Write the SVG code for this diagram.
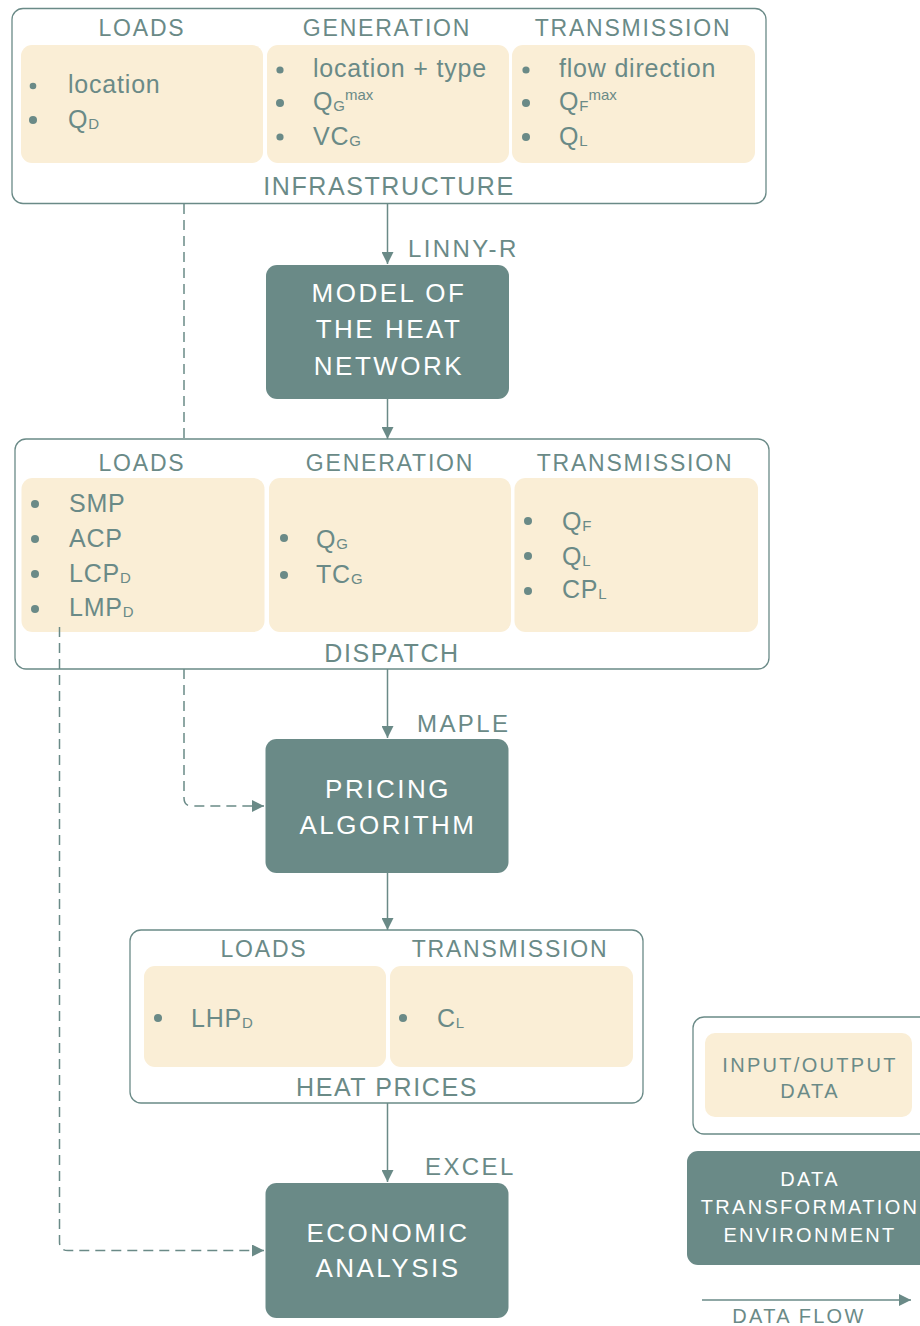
<svg xmlns="http://www.w3.org/2000/svg" width="920" height="1326" viewBox="0 0 920 1326">
  <defs>
    <style>
      text { font-family: "Liberation Sans", Arial, sans-serif; fill: #6a8a87; }
      .frame { fill: #ffffff; stroke: #6a8a87; stroke-width: 1.3; }
      .cell { fill: #faeed6; }
      .proc { fill: #6a8a87; }
      .hdr { font-size: 23px; letter-spacing: 1.8px; text-anchor: middle; }
      .ftr { font-size: 25px; letter-spacing: 1.6px; text-anchor: middle; }
      .item { font-size: 25px; letter-spacing: 0.8px; }
      .sub { font-size: 15px; letter-spacing: 0px; }
      .dot { fill: #6a8a87; }
      .ptxt { font-size: 26px; letter-spacing: 2.5px; text-anchor: middle; fill: #ffffff; }
      .tool { font-size: 24px; letter-spacing: 2.4px; }
      .leg { font-size: 20px; letter-spacing: 2.3px; text-anchor: middle; }
      .flow { fill: none; stroke: #6a8a87; stroke-width: 1.5; }
      .dash { stroke-dasharray: 10 6; }
    </style>
    <marker id="head" viewBox="0 0 12 12" refX="12" refY="6" markerWidth="12" markerHeight="12" markerUnits="userSpaceOnUse" orient="auto">
      <path d="M0,0 L12,6 L0,12 z" fill="#6a8a87"/>
    </marker>
  </defs>

  <!-- infrastructure data -->
  <g id="infrastructure">
    <rect class="frame" x="12" y="8.5" width="754" height="195" rx="11"/>
    <rect class="cell" x="21" y="45" width="242" height="118" rx="11"/>
    <rect class="cell" x="267" y="45" width="242" height="118" rx="11"/>
    <rect class="cell" x="512" y="45" width="243" height="118" rx="11"/>
    <text class="hdr" x="142" y="36">LOADS</text>
    <text class="hdr" x="387" y="36">GENERATION</text>
    <text class="hdr" x="633" y="36">TRANSMISSION</text>
    <circle class="dot" cx="33" cy="86" r="3.3"/>
    <text class="item" x="68" y="93">location</text>
    <circle class="dot" cx="33" cy="120" r="4"/>
    <text class="item" x="68" y="128">Q<tspan class="sub" dy="1">D</tspan></text>
    <circle class="dot" cx="280" cy="70" r="3.6"/>
    <text class="item" x="313" y="77">location + type</text>
    <circle class="dot" cx="280" cy="103" r="4"/>
    <text class="item" x="313" y="110">Q<tspan class="sub" dy="1">G</tspan><tspan class="sub" dy="-11">max</tspan></text>
    <circle class="dot" cx="280" cy="137" r="3.6"/>
    <text class="item" x="313" y="145">VC<tspan class="sub" dy="1">G</tspan></text>
    <circle class="dot" cx="526" cy="70" r="3.6"/>
    <text class="item" x="559" y="77">flow direction</text>
    <circle class="dot" cx="526" cy="103" r="4"/>
    <text class="item" x="559" y="110">Q<tspan class="sub" dy="1">F</tspan><tspan class="sub" dy="-11">max</tspan></text>
    <circle class="dot" cx="526" cy="137" r="4"/>
    <text class="item" x="559" y="145">Q<tspan class="sub" dy="1">L</tspan></text>
    <text class="ftr" x="389" y="195">INFRASTRUCTURE</text>
  </g>

  <!-- heat network model -->
  <g id="model">
    <rect class="proc" x="266" y="265" width="243" height="134" rx="11"/>
    <text class="ptxt" x="389" y="302">MODEL OF</text>
    <text class="ptxt" x="389" y="338">THE HEAT</text>
    <text class="ptxt" x="389" y="375">NETWORK</text>
    <text class="tool" x="408" y="257">LINNY-R</text>
  </g>

  <!-- dispatch results -->
  <g id="dispatch">
    <rect class="frame" x="15" y="439" width="754" height="230" rx="11"/>
    <rect class="cell" x="21.5" y="478" width="243" height="154" rx="11"/>
    <rect class="cell" x="269" y="478" width="242" height="154" rx="11"/>
    <rect class="cell" x="514.5" y="478" width="243.5" height="154" rx="11"/>
    <text class="hdr" x="142" y="471">LOADS</text>
    <text class="hdr" x="390" y="471">GENERATION</text>
    <text class="hdr" x="635" y="471">TRANSMISSION</text>
    <circle class="dot" cx="35" cy="504" r="4"/>
    <text class="item" x="69" y="512">SMP</text>
    <circle class="dot" cx="35" cy="539" r="4"/>
    <text class="item" x="69" y="547">ACP</text>
    <circle class="dot" cx="35" cy="574" r="4"/>
    <text class="item" x="69" y="582">LCP<tspan class="sub" dy="1">D</tspan></text>
    <circle class="dot" cx="35" cy="609" r="4"/>
    <text class="item" x="69" y="616">LMP<tspan class="sub" dy="1">D</tspan></text>
    <circle class="dot" cx="284" cy="538" r="4"/>
    <text class="item" x="316" y="548">Q<tspan class="sub" dy="1">G</tspan></text>
    <circle class="dot" cx="284" cy="575" r="4"/>
    <text class="item" x="316" y="583">TC<tspan class="sub" dy="1">G</tspan></text>
    <circle class="dot" cx="528" cy="521" r="4"/>
    <text class="item" x="562" y="530">Q<tspan class="sub" dy="1">F</tspan></text>
    <circle class="dot" cx="528" cy="556" r="4"/>
    <text class="item" x="562" y="565">Q<tspan class="sub" dy="1">L</tspan></text>
    <circle class="dot" cx="528" cy="591" r="4"/>
    <text class="item" x="562" y="598">CP<tspan class="sub" dy="1">L</tspan></text>
    <text class="ftr" x="392" y="662">DISPATCH</text>
  </g>

  <!-- pricing algorithm -->
  <g id="pricing">
    <rect class="proc" x="265.5" y="739" width="243" height="134" rx="11"/>
    <text class="ptxt" x="388" y="798">PRICING</text>
    <text class="ptxt" x="388" y="834">ALGORITHM</text>
    <text class="tool" x="417" y="732">MAPLE</text>
  </g>

  <!-- heat prices -->
  <g id="heat-prices">
    <rect class="frame" x="130" y="930" width="513" height="173" rx="11"/>
    <rect class="cell" x="144" y="966" width="242" height="101" rx="11"/>
    <rect class="cell" x="390" y="966" width="243" height="101" rx="11"/>
    <text class="hdr" x="264" y="957">LOADS</text>
    <text class="hdr" x="510" y="957">TRANSMISSION</text>
    <circle class="dot" cx="158" cy="1018" r="4"/>
    <text class="item" x="191" y="1027">LHP<tspan class="sub" dy="1">D</tspan></text>
    <circle class="dot" cx="403" cy="1018" r="4"/>
    <text class="item" x="437" y="1027">C<tspan class="sub" dy="1">L</tspan></text>
    <text class="ftr" x="387" y="1096">HEAT PRICES</text>
  </g>

  <!-- economic analysis -->
  <g id="economic">
    <rect class="proc" x="265.5" y="1183" width="243" height="135" rx="11"/>
    <text class="ptxt" x="388" y="1242">ECONOMIC</text>
    <text class="ptxt" x="388" y="1277">ANALYSIS</text>
    <text class="tool" x="425" y="1175">EXCEL</text>
  </g>

  <!-- legend -->
  <g id="legend-data">
    <rect class="frame" x="693" y="1017" width="240" height="117" rx="11"/>
    <rect class="cell" x="705" y="1033" width="207" height="84" rx="10"/>
    <text class="leg" x="810" y="1072">INPUT/OUTPUT</text>
    <text class="leg" x="810" y="1098">DATA</text>
  </g>
  <g id="legend-env">
    <rect class="proc" x="687" y="1151" width="250" height="114" rx="11"/>
    <text class="leg" x="810" y="1186" style="fill:#ffffff">DATA</text>
    <text class="leg" x="810" y="1214" style="fill:#ffffff">TRANSFORMATION</text>
    <text class="leg" x="810" y="1242" style="fill:#ffffff">ENVIRONMENT</text>
  </g>
  <g id="legend-flow">
    <line class="flow" x1="702" y1="1300" x2="911" y2="1300" marker-end="url(#head)"/>
    <text class="leg" x="799" y="1323">DATA FLOW</text>
  </g>

  <!-- connectors, drawn last so dashed feeds show over the data panels -->
  <g id="connectors">
    <line class="flow" x1="387.5" y1="204" x2="387.5" y2="264" marker-end="url(#head)"/>
    <line class="flow" x1="387.5" y1="399" x2="387.5" y2="439" marker-end="url(#head)"/>
    <line class="flow" x1="387.5" y1="669" x2="387.5" y2="738" marker-end="url(#head)"/>
    <line class="flow" x1="387.5" y1="873" x2="387.5" y2="930" marker-end="url(#head)"/>
    <line class="flow" x1="387.5" y1="1103" x2="387.5" y2="1182" marker-end="url(#head)"/>
    <path class="flow dash" d="M184,204 V439"/>
    <path class="flow dash" d="M184,669 V798 Q184,806 192,806 H264" marker-end="url(#head)"/>
    <path class="flow dash" d="M59.5,627 V1242 Q59.5,1250.5 68,1250.5 H264" marker-end="url(#head)"/>
  </g>
</svg>
